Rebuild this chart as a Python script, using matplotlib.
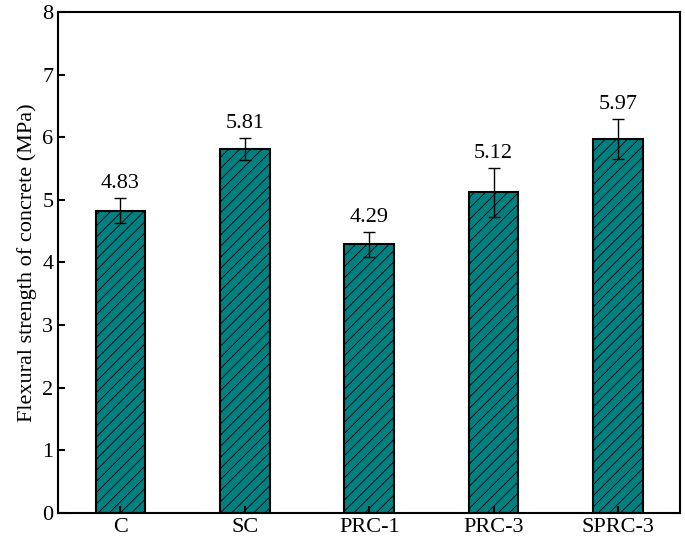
import matplotlib
matplotlib.use("Agg")
import matplotlib.pyplot as plt

plt.rcParams["font.family"] = "Liberation Serif"
plt.rcParams["hatch.linewidth"] = 0.6

labels = ["C", "SC", "PRC-1", "PRC-3", "SPRC-3"]
strength = [4.83, 5.81, 4.29, 5.12, 5.97]
errors = [0.20, 0.18, 0.20, 0.39, 0.32]

fig = plt.figure(figsize=(6.85, 5.48), dpi=100)
ax = fig.add_axes([0.085, 0.064, 0.908, 0.914])
x = range(len(labels))
ax.bar(x, strength, width=0.4, color="#008080", edgecolor="black", linewidth=1.5, hatch="///")
ax.errorbar(x, strength, yerr=errors, fmt="none", ecolor="black", elinewidth=1, capsize=4, capthick=1)
for xi, v, e in zip(x, strength, errors):
    ax.text(xi, v + e + 0.08, f"{v:.2f}", ha="center", va="bottom", fontsize=16)

ax.set_xlim(-0.5, 4.5)
ax.set_ylim(0, 8)
ax.set_xticks(list(x), labels)
ax.set_yticks(range(9))
ax.tick_params(direction="in", labelsize=16, width=1.5, length=5)
ax.set_ylabel("Flexural strength of concrete (MPa)", fontsize=16)
for s in ax.spines.values():
    s.set_linewidth(1.5)
fig.savefig("out.png", dpi=100)
